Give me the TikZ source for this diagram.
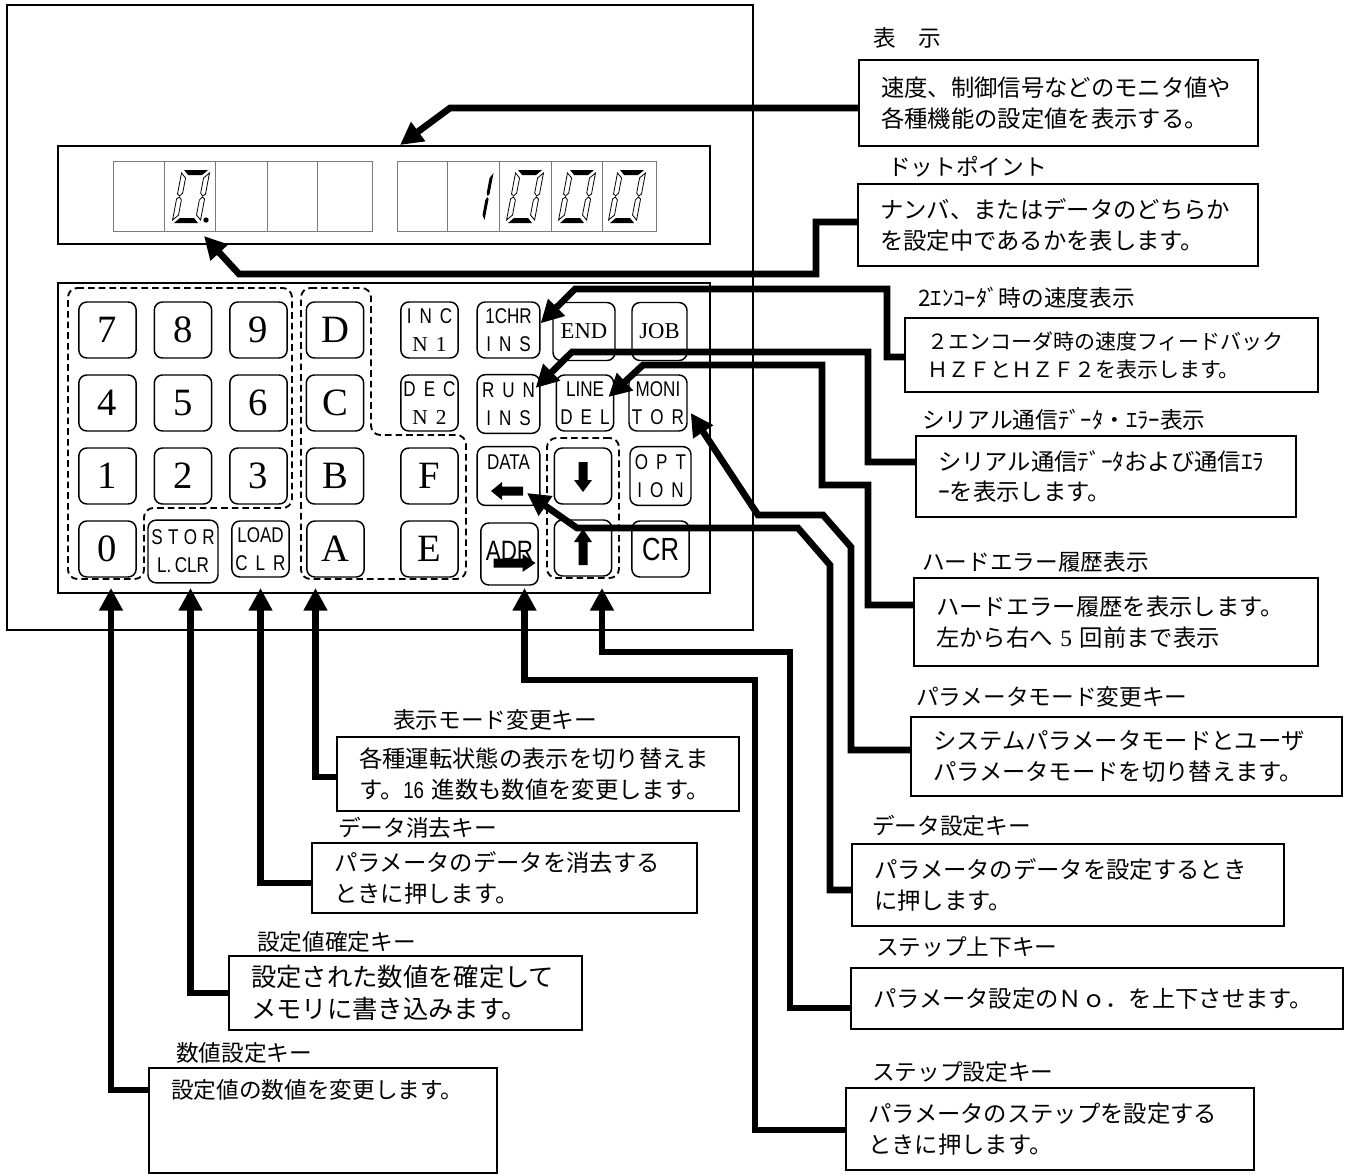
\documentclass[tikz,border=0pt]{standalone}
\usepackage{fontspec}
\setmainfont{Liberation Serif}
\newfontfamily\jp{Noto Sans CJK JP}
\newfontfamily\narrow[FakeStretch=0.8]{Liberation Sans}
\usetikzlibrary{arrows.meta,calc}
\definecolor{cellgray}{HTML}{7A7A7A}
\newcommand{\kgap}{\hspace{6pt}}
\newcommand{\digitzero}[1]{%
  \begin{scope}[shift={#1},xslant=0.19]
    \fill (2,0) -- (26,0) -- (21,-5) -- (7,-5) -- cycle;
    \fill (2,-53) -- (26,-53) -- (21,-48) -- (7,-48) -- cycle;
    \draw[seg] (0,-3) -- (5,-8) -- (5,-23) -- (2.5,-26) -- (0,-24) -- cycle;
    \draw[seg] (0,-29) -- (2.5,-27) -- (5,-30) -- (5,-45) -- (0,-50) -- cycle;
    \draw[seg] (28,-3) -- (23,-8) -- (23,-23) -- (25.5,-26) -- (28,-24) -- cycle;
    \draw[seg] (28,-29) -- (25.5,-27) -- (23,-30) -- (23,-45) -- (28,-50) -- cycle;
  \end{scope}}
\newcommand{\digitone}[1]{%
  \begin{scope}[shift={#1},xslant=0.19]
    \fill (28,-3) -- (25,-8) -- (25,-23) -- (26.5,-26) -- (28,-24) -- cycle;
    \fill (28,-29) -- (26.5,-27) -- (25,-30) -- (25,-45) -- (28,-50) -- cycle;
  \end{scope}}
\newcommand{\blockarr}[4]{%
  \fill[shift={#1},rotate=#2] (-#3,-4.5) -- (#3-#4,-4.5) -- (#3-#4,-9) -- (#3,0) -- (#3-#4,9) -- (#3-#4,4.5) -- (-#3,4.5) -- cycle;}
\tikzset{
  panel/.style={draw,line width=1.5pt,inner sep=0pt},
  key/.style={draw,line width=1.1pt,rounded corners=6pt,minimum width=43pt,minimum height=42pt,inner sep=0pt,align=center},
  numkey/.style={key,font=\fontsize{29}{29}\selectfont},
  txtkey/.style={key,font=\narrow\fontsize{16}{21}\selectfont},
  serifkey/.style={key,font=\fontsize{17}{17}\selectfont},
  grp/.style={draw,line width=1.4pt,dash pattern=on 5pt off 3pt,rounded corners=7pt},
  cell/.style={draw=cellgray,line width=0.7pt},
  seg/.style={draw,line width=0.6pt,fill=white},
  leader/.style={line width=5pt,-{Triangle[length=17pt,width=17pt]}},
  title/.style={font=\jp\fontsize{17}{17}\selectfont,anchor=west,inner sep=0pt},
  descbox/.style={draw,line width=1.6pt,font=\jp\fontsize{17.5}{23}\selectfont,align=left,inner xsep=16.5pt,inner ysep=3pt},
}
\begin{document}
\begin{tikzpicture}[x=0.75pt,y=-0.75pt]
\useasboundingbox (0,0) rectangle (1349,1175);

\node[panel,line width=1.3pt,minimum width=559.5pt,minimum height=468.75pt] (front) at (380,317.5) {};
\node[panel,minimum width=489pt,minimum height=73.5pt] (disp) at (384,195) {};
\node[panel,minimum width=489pt,minimum height=232.5pt] (pad) at (384,438) {};

\draw[cell] (113,161) rectangle (164,231);
\draw[cell] (164,161) rectangle (215,231);
\draw[cell] (215,161) rectangle (267.5,231);
\draw[cell] (267.5,161) rectangle (317.5,231);
\draw[cell] (317.5,161) rectangle (372,231);
\draw[cell] (397,161) rectangle (447,231);
\draw[cell] (447,161) rectangle (499.5,231);
\draw[cell] (499.5,161) rectangle (551.5,231);
\draw[cell] (551.5,161) rectangle (602,231);
\draw[cell] (602,161) rectangle (656,231);
\digitzero{(172,223)}
\fill (206,220) circle (2pt);
\digitone{(456,223)}
\digitzero{(506,223)}
\digitzero{(558,223)}
\digitzero{(608,223)}

\node[numkey] (k7) at (107.5,330) {7};
\node[numkey] (k8) at (183,330) {8};
\node[numkey] (k9) at (258.5,330) {9};
\node[numkey] (kD) at (335,330) {D};
\node[txtkey] (kinc) at (429.5,330) {I\kgap N\kgap C\\{\rmfamily N\kgap 1}};
\node[txtkey,minimum width=47pt] (k1chr) at (508.5,330) {1CHR\\I\kgap N\kgap S};
\node[serifkey,minimum width=46.5pt,minimum height=43.5pt] (kend) at (584,331.5) {END};
\node[serifkey,minimum width=41.25pt,minimum height=43.5pt] (kjob) at (659.5,331.5) {JOB};
\node[numkey] (k4) at (107.5,403) {4};
\node[numkey] (k5) at (183,403) {5};
\node[numkey] (k6) at (258.5,403) {6};
\node[numkey] (kC) at (335,403) {C};
\node[txtkey] (kdec) at (429.5,403) {D\kgap E\kgap C\\{\rmfamily N\kgap 2}};
\node[txtkey,minimum width=47pt,minimum height=44pt] (krun) at (508.5,404) {R\kgap U\kgap N\\I\kgap N\kgap S};
\node[txtkey] (kline) at (585,403) {LINE\\D\kgap E\kgap L};
\node[txtkey,minimum width=43.5pt] (kmon) at (658,403) {MONI\\T\kgap O\kgap R};
\node[numkey] (k1) at (107.5,476) {1};
\node[numkey] (k2) at (183,476) {2};
\node[numkey] (k3) at (258.5,476) {3};
\node[numkey] (kB) at (335,476) {B};
\node[numkey] (kF) at (429.5,476) {F};
\node[txtkey,minimum width=47pt,minimum height=44pt] (kdata) at (508.5,476) {DATA\\\phantom{X}};
\node[key] (kdown) at (583,476) {};
\node[txtkey,minimum width=45.75pt,minimum height=44pt] (kopt) at (660.5,476) {O\kgap P\kgap T\\I\kgap O\kgap N};
\node[numkey] (k0) at (107.5,549) {0};
\node[txtkey,minimum width=52.5pt,minimum height=47pt] (kstor) at (183,551.5) {S\hspace{4pt}T\hspace{4pt}O\hspace{4pt}R\\L.\,CLR};
\node[txtkey] (kload) at (260.5,549) {LOAD\\C\kgap L\kgap R};
\node[numkey] (kA) at (335.5,549) {A};
\node[numkey] (kE) at (429.5,549) {E};
\node[key,font=\narrow\fontsize{21}{21}\selectfont,minimum height=46.5pt] (kadr) at (509.5,554) {\raisebox{5pt}{ADR}};
\node[key] (kup) at (583,548) {};
\node[key,font=\narrow\fontsize{24}{24}\selectfont] (kcr) at (660.5,549) {CR};
\blockarr{($(kdata.center)+(-1.5,15)$)}{180}{16}{11}
\blockarr{($(kadr.center)+(5,9)$)}{0}{21}{13}
\blockarr{($(kdown.center)+(0,1)$)}{-90}{15}{12}
\blockarr{($(kup.center)+(0,-1)$)}{90}{18}{13}

\draw[grp] (68,288) -- (292,288) -- (292,508) -- (144,508) -- (144,579) -- (68,579) -- cycle;
\draw[grp] (301,288) -- (371,288) -- (371,435) -- (466,435) -- (466,579) -- (301,579) -- cycle;
\node[grp,minimum width=54pt,minimum height=105pt] (grpud) at (583,508) {};

\node[title] (t1) at (873,38) {表　示};
\node[descbox,text width=266.25pt,minimum height=64.5pt] (b1) at (1058.5,103) {速度、制御信号などのモニタ値や\\各種機能の設定値を表示する。};
\node[title] (t2) at (888,167) {ドットポイント};
\node[descbox,text width=267pt,minimum height=61.5pt] (b2) at (1058,225) {ナンバ、またはデータのどちらか\\を設定中であるかを表します。};
\node[title] (t3) at (918,298) {2ｴﾝｺｰﾀﾞ時の速度表示};
\node[descbox,font=\jp\fontsize{15.75}{21}\selectfont,text width=276.75pt,minimum height=55.5pt] (b3) at (1111.5,355) {２エンコーダ時の速度フィードバック\\ＨＺＦとＨＺＦ２を表示します。};
\node[title] (t4) at (922,420) {シリアル通信ﾃﾞｰﾀ・ｴﾗｰ表示};
\node[descbox,text width=252pt,minimum height=60.75pt] (b4) at (1106,476.5) {シリアル通信ﾃﾞｰﾀおよび通信ｴﾗ\\ｰを表示します。};
\node[title] (t5) at (922,562) {ハードエラー履歴表示};
\node[descbox,text width=270pt,minimum height=66pt] (b5) at (1116,622) {ハードエラー履歴を表示します。\\左から右へ {\rmfamily 5} 回前まで表示};
\node[title] (t6) at (916,697) {パラメータモード変更キー};
\node[descbox,text width=290.25pt,minimum height=59.25pt] (b6) at (1126.5,756.5) {システムパラメータモードとユーザ\\パラメータモードを切り替えます。};
\node[title] (t7) at (872,826) {データ設定キー};
\node[descbox,text width=291pt,minimum height=61.5pt] (b7) at (1068,885) {パラメータのデータを設定するとき\\に押します。};
\node[title] (t8) at (876,947) {ステップ上下キー};
\node[descbox,text width=336pt,minimum height=45.75pt] (b8) at (1097,998.5) {パラメータ設定のＮｏ．を上下させます。};
\node[title] (t9) at (872,1072) {ステップ設定キー};
\node[descbox,text width=273pt,minimum height=61.5pt] (b9) at (1050,1129) {パラメータのステップを設定する\\ときに押します。};
\node[title] (t10) at (393,720) {表示モード変更キー};
\node[descbox,text width=268.5pt,minimum height=55.5pt] (b10) at (538,774) {各種運転状態の表示を切り替えま\\す。{\narrow 16} 進数も数値を変更します。};
\node[title] (t11) at (338,828) {データ消去キー};
\node[descbox,text width=255.75pt,minimum height=52.5pt] (b11) at (504.5,878) {パラメータのデータを消去する\\ときに押します。};
\node[title] (t12) at (257,942) {設定値確定キー};
\node[descbox,font=\jp\fontsize{19}{24}\selectfont,text width=231.75pt,minimum height=55.5pt] (b12) at (405.5,993) {設定された数値を確定して\\メモリに書き込みます。};
\node[title] (t13) at (176,1053) {数値設定キー};
\node[descbox,font=\jp\fontsize{17}{23}\selectfont,text width=228pt,text height=20pt,text depth=52.75pt,anchor=north west] (b13) at (148,1067) {設定値の数値を変更します。};

\coordinate (padtip) at ([yshift=4.5pt]pad.south);
\coordinate (dotpt) at (204,236);
\coordinate (tipnum) at ($(k0.south |- padtip)+(3.5,0)$);
\coordinate (tipstor) at ($(kstor.south |- padtip)+(7.5,0)$);
\coordinate (tipload) at (kload.south |- padtip);
\coordinate (tiphex) at ($(kA.south |- padtip)+(-20,0)$);
\coordinate (tipadr) at ($(kadr.south |- padtip)+(15,0)$);
\coordinate (tipup) at ($(kup.south |- padtip)+(19,0)$);

\draw[leader] ([yshift=-3.75pt]b1.west) -- (450,108) -- ([xshift=12pt]disp.north);
\draw[leader] ([yshift=2.25pt]b2.west) -| (816,274) -- (239,274) -- (dotpt);
\draw[leader] ([yshift=-1.5pt]b3.west) -| (887,289) -- (575,289) -- ([yshift=5pt]k1chr.east);
\draw[leader] ([yshift=10.9pt]b4.west) -| (868,352) -- (572,352) -- ([xshift=-3.75pt,yshift=12pt]krun.east);
\draw[leader] ([yshift=12.75pt]b5.west) -| (868,485) -| (822,365) -- (643,365) -- ([xshift=-4.5pt,yshift=4.5pt]kline.east);
\draw[leader] ([yshift=4.9pt]b6.west) -| (851,547) -- (823,515) -- (758,515) -- ([xshift=2.25pt,yshift=-7.5pt]kmon.east);
\draw[leader] ([yshift=-3.75pt]b7.west) -| (830,565) -- (798,528) -- (577,528) -- ($(kdata.center)+(18.5,17)$);
\draw[leader] ([yshift=-7.1pt]b8.west) -| (790,652) -| (tipup);
\draw[leader] ([yshift=-0.75pt]b9.west) -| (755,680) -| (tipadr);
\draw[leader] ([yshift=-2.25pt]b10.west) -| (tiphex);
\draw[leader] ([yshift=-3.75pt]b11.west) -| (tipload);
\draw[leader] (b12.west) -| (tipstor);
\draw[leader] ([yshift=22.9pt]b13.west) -| (tipnum);
\end{tikzpicture}
\end{document}
